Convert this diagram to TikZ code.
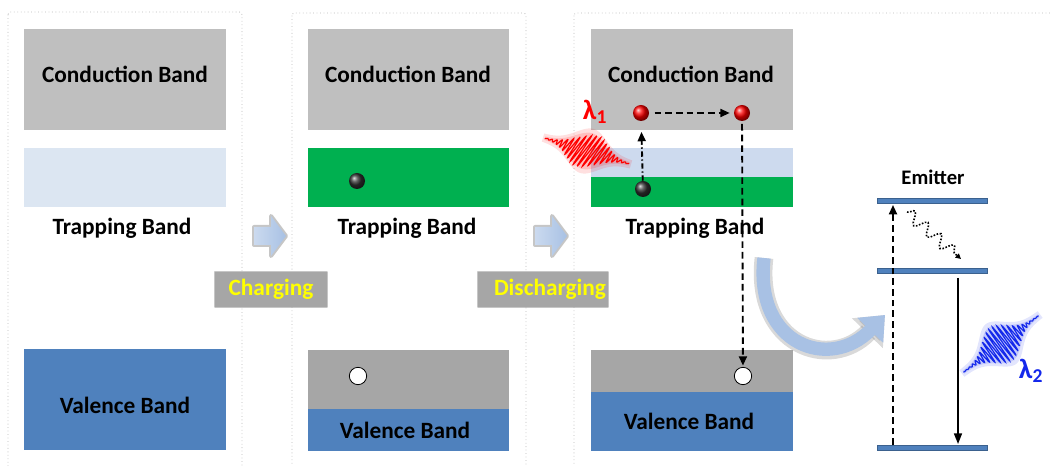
\documentclass[tikz,border=0pt]{standalone}
\usepackage{fontspec}
\setmainfont{Carlito}
\usetikzlibrary{arrows.meta,decorations.pathmorphing}

\definecolor{cbgray}{RGB}{191,191,191}
\definecolor{vbgray}{RGB}{166,166,166}
\definecolor{trapblue}{RGB}{220,230,242}
\definecolor{traplight}{RGB}{205,218,238}
\definecolor{trapgreen}{RGB}{0,176,80}
\definecolor{valblue}{RGB}{79,129,189}
\definecolor{arrowblue}{RGB}{168,193,228}
\definecolor{labyellow}{RGB}{255,255,0}
\definecolor{framegray}{RGB}{185,185,185}
\definecolor{photonred}{RGB}{255,0,0}
\definecolor{photonblue}{RGB}{20,40,235}

\tikzset{
  bandtext/.style={font=\bfseries\fontsize{17.5}{20}\selectfont, inner sep=0.75pt},
  labeltext/.style={font=\bfseries\fontsize{17.5}{20}\selectfont, text=labyellow, inner sep=0.75pt},
  lambdatext/.style={font=\bfseries\fontsize{21}{24}\selectfont, inner sep=0.75pt},
  panelframe/.style={draw=framegray, dotted, line width=0.6pt, rounded corners=2pt},
  electron/.style={circle, inner sep=0pt, minimum size=12pt, ball color=black!80},
  excited/.style={circle, inner sep=0pt, minimum size=12pt, ball color=red},
  hole/.style={circle, draw=black, fill=white, line width=0.6pt, inner sep=0pt, minimum size=13pt},
  hop/.style={line width=1.4pt, dash pattern=on 5pt off 3pt, -{Triangle[length=7pt,width=6pt]}},
  hopdot/.style={line width=1.4pt, dash pattern=on 4pt off 2pt on 1pt off 2pt, -{Triangle[length=7pt,width=6pt]}},
  level/.style={fill=valblue, draw=valblue!75!black, line width=0.4pt},
  blockarrow/.style={left color=arrowblue!60, right color=arrowblue, draw=none},
  glow/.style={draw=gray, opacity=0.45, line join=round}
}

\begin{document}
\begin{tikzpicture}[x=0.75pt,y=0.75pt,yscale=-1,xscale=1]
  \useasboundingbox (0,0) rectangle (1051,466);

  % dotted panel frames
  \draw[panelframe] (8,12) rectangle (242,490);
  \draw[panelframe] (292,13) rectangle (526,490);
  \draw[panelframe] (574,13) rectangle (1080,490);

  % panel 1: empty traps
  \fill[cbgray] (24,29) rectangle (226,130);
  \fill[trapblue] (24,148) rectangle (226,207);
  \fill[valblue] (24,349) rectangle (226,450);
  \node[bandtext] (cb1) at (125,74) {Conduction Band};
  \node[bandtext] (tb1) at (122,228) {Trapping Band};
  \node[bandtext] (vb1) at (125,405) {Valence Band};

  % panel 2: charged traps
  \fill[cbgray] (308,29) rectangle (509,130);
  \fill[trapgreen] (308,148) rectangle (509,207);
  \fill[vbgray] (308,350) rectangle (509,409);
  \fill[valblue] (308,409) rectangle (509,451);
  \node[bandtext] (cb2) at (408,74) {Conduction Band};
  \node[bandtext] (tb2) at (407,228) {Trapping Band};
  \node[bandtext] (vb2) at (405,430) {Valence Band};
  \node[electron] (e2) at (357,181) {};
  \node[hole] (h2) at (358,376) {};

  % panel 3: detrapping
  \fill[cbgray] (591,29) rectangle (793,130);
  \fill[traplight] (591,148) rectangle (793,177);
  \fill[trapgreen] (591,177) rectangle (793,207);
  \fill[vbgray] (591,350) rectangle (793,392);
  \fill[valblue] (591,392) rectangle (793,451);
  \node[bandtext] (cb3) at (691,74) {Conduction Band};
  \node[bandtext] (tb3) at (695,228) {Trapping Band};
  \node[bandtext] (vb3) at (689,421) {Valence Band};
  \node[electron] (e3) at (643,189) {};
  \node[excited] (x1) at (641,113) {};
  \node[excited] (x2) at (742,113) {};
  \node[hole] (h3) at (743,376) {};

  \draw[hopdot, shorten >=8pt] (e3) -- (x1);
  \draw[hop, shorten <=4pt, shorten >=3pt] (x1) -- (x2);
  \draw[hop, shorten <=2pt, shorten >=1pt] (x2) -- (h3);

  % stimulating photon
  \begin{scope}[shift={(587,151)}, rotate=17]
    \fill[photonred, opacity=0.12] plot[domain=-46:46, samples=60] ({\x}, {-(19*exp(-(\x/22)^2)+4)})
      -- plot[domain=46:-46, samples=60] ({\x}, {19*exp(-(\x/22)^2)+4}) -- cycle;
    \fill[photonred, opacity=0.15] plot[domain=-44:44, samples=60] ({\x}, {-(17*exp(-(\x/22)^2)+1.5)})
      -- plot[domain=44:-44, samples=60] ({\x}, {17*exp(-(\x/22)^2)+1.5}) -- cycle;
    \draw[photonred, line width=0.9pt]
      plot[domain=-44:44, samples=361] ({\x-0.35*17*exp(-(\x/22)^2)*sin(80*\x)}, {17*exp(-(\x/22)^2)*sin(80*\x)});
  \end{scope}
  \node[lambdatext, text=photonred] (lam1) at (595,112) {λ\textsubscript{1}};

  % charging / discharging steps
  \foreach \dx/\name in {0/Charging, 281/Discharging} {
    \draw[glow, line width=3pt] ({254+\dx},227) -- ({271+\dx},227) -- ({271+\dx},216) -- ({286+\dx},236)
      -- ({271+\dx},256) -- ({271+\dx},245) -- ({254+\dx},245) -- cycle;
    \shade[blockarrow] ({254+\dx},227) -- ({271+\dx},227) -- ({271+\dx},216) -- ({286+\dx},236)
      -- ({271+\dx},256) -- ({271+\dx},245) -- ({254+\dx},245) -- cycle;
  }
  \draw[glow, line width=2pt, fill=vbgray] (215,272) rectangle (327,307);
  \draw[glow, line width=2pt, fill=vbgray] (478,272) rectangle (608,307);
  \fill[vbgray] (215,272) rectangle (327,307);
  \fill[vbgray] (478,272) rectangle (608,307);
  \node[labeltext] (chg) at (271,289) {Charging};
  \node[labeltext] (dchg) at (550,289) {Discharging};

  % energy transfer to the emitter
  \draw[gray, opacity=0.3, line width=14pt, -{Triangle[length=19pt,width=31pt]}]
    (764,258) .. controls (754,345) and (830,372) .. (885,315);
  \draw[arrowblue, line width=10pt, -{Triangle[length=16pt,width=26pt]}]
    (764,258) .. controls (754,345) and (830,372) .. (885,315);

  % emitter levels
  \node[font=\bfseries\fontsize{15.5}{18}\selectfont, inner sep=0.75pt] (emit) at (933,177) {Emitter};
  \draw[level] (877,198.5) rectangle (987,203.5);
  \draw[level] (877,268.5) rectangle (987,273.5);
  \draw[level] (877,445.5) rectangle (987,450.5);
  \coordinate (up0) at (893,445);
  \coordinate (up1) at (893,205);
  \coordinate (dn0) at (958,278);
  \coordinate (dn1) at (958,444);
  \coordinate (nr0) at (907,212);
  \coordinate (nr1) at (961,259);
  \draw[hop] (up0) -- (up1);
  \draw[line width=1.2pt, -{Triangle[length=8pt,width=6pt]}] (dn0) -- (dn1);
  \draw[line width=1.2pt, dash pattern=on 1.2pt off 1.2pt, decorate,
    decoration={snake, segment length=13pt, amplitude=4.5pt, post length=5pt},
    -{Triangle[length=4pt,width=4pt]}] (nr0) -- (nr1);

  % emitted photon
  \begin{scope}[shift={(1001,344)}, rotate=-37]
    \fill[photonblue, opacity=0.12] plot[domain=-49:49, samples=60] ({\x}, {-(21*exp(-(\x/21)^2)+4)})
      -- plot[domain=49:-49, samples=60] ({\x}, {21*exp(-(\x/21)^2)+4}) -- cycle;
    \fill[photonblue, opacity=0.15] plot[domain=-47:47, samples=60] ({\x}, {-(19*exp(-(\x/21)^2)+1.5)})
      -- plot[domain=47:-47, samples=60] ({\x}, {19*exp(-(\x/21)^2)+1.5}) -- cycle;
    \draw[photonblue, line width=0.9pt]
      plot[domain=-47:47, samples=381] ({\x}, {19*exp(-(\x/21)^2)*sin(85*\x)});
  \end{scope}
  \node[lambdatext, text=photonblue] (lam2) at (1031,371) {λ\textsubscript{2}};

\end{tikzpicture}
\end{document}
